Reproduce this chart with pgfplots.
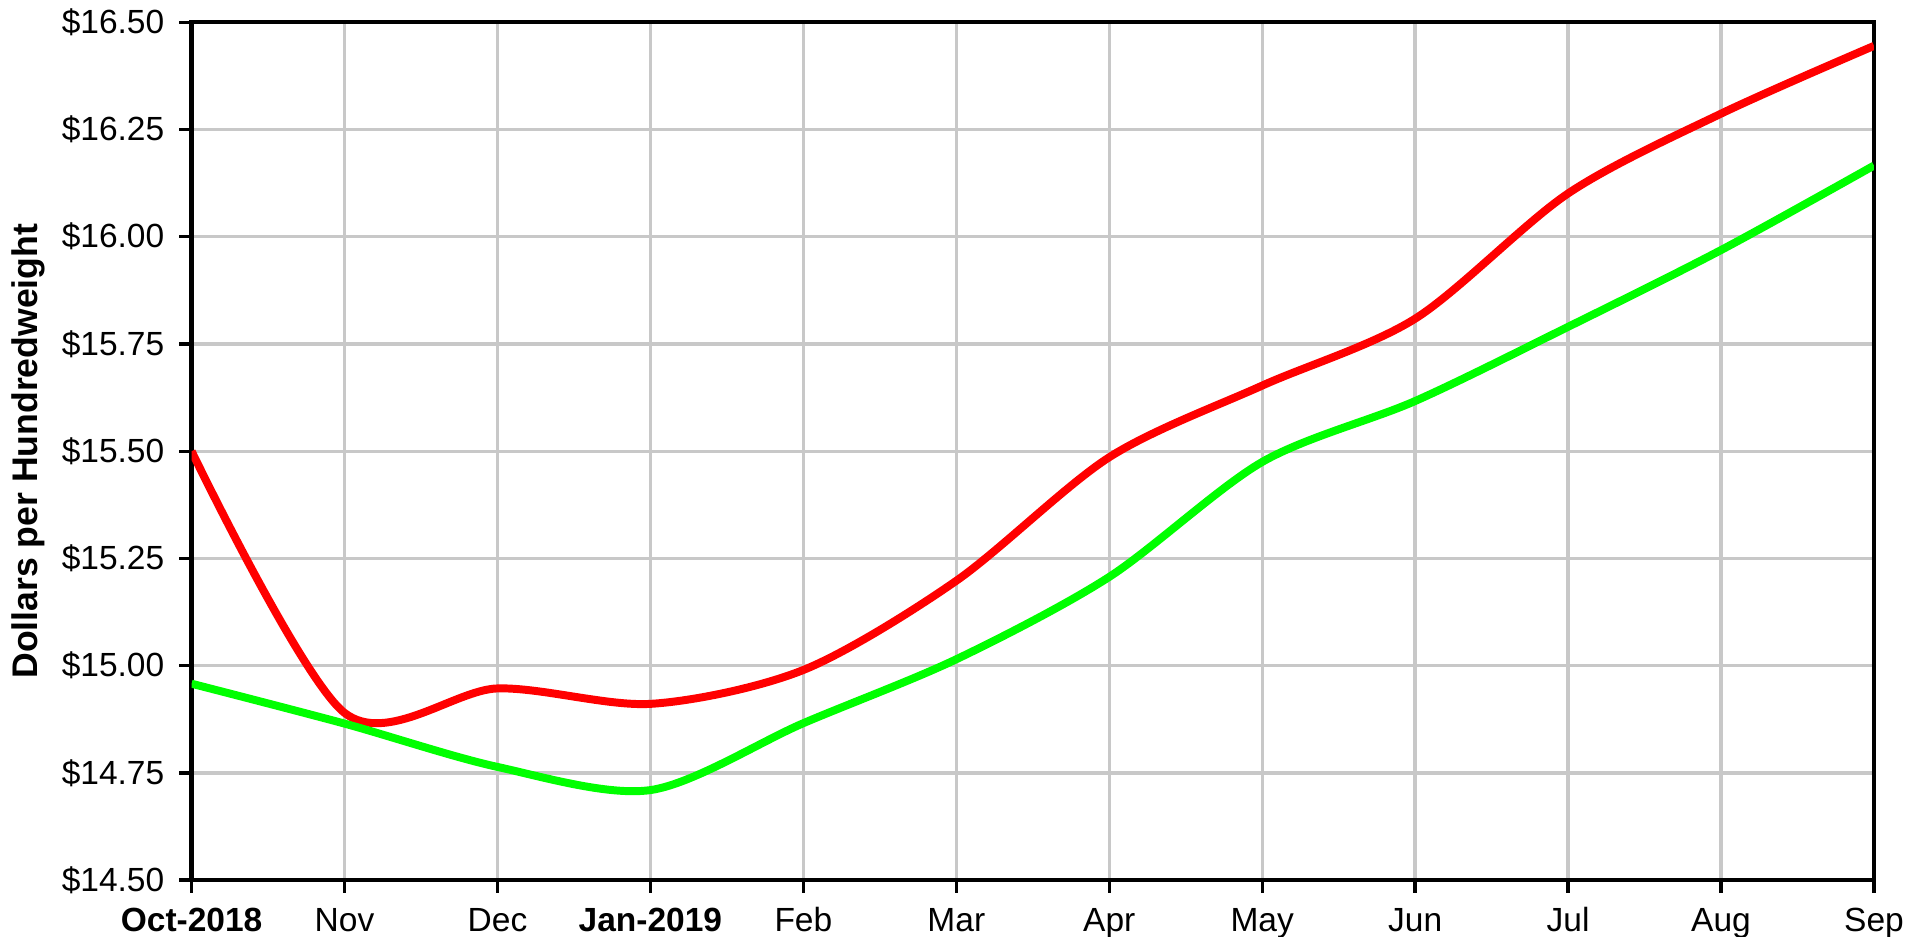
\documentclass[border=0pt]{standalone}
\usepackage{fontspec}
\setmainfont{Liberation Sans}
\usepackage{pgfplots}
\pgfplotsset{compat=1.18}
\definecolor{gridgray}{HTML}{C8C8C8}
\definecolor{cmered}{HTML}{FF0000}
\definecolor{cmegreen}{HTML}{00FF00}

\begin{document}
\begin{tikzpicture}
\useasboundingbox (-1.608cm,-0.47cm) rectangle (14.397cm,7.387cm);
\begin{axis}[
  at={(0,0)}, anchor=south west,
  scale only axis, width=14.12cm, height=7.20cm,
  xmin=0, xmax=11, ymin=14.5, ymax=16.5,
  xtick={0,1,2,3,4,5,6,7,8,9,10,11},
  xticklabels={\textbf{Oct-2018},Nov,Dec,\textbf{Jan-2019},Feb,Mar,Apr,May,Jun,Jul,Aug,Sep},
  ytick={14.5,14.75,15,15.25,15.5,15.75,16,16.25,16.5},
  yticklabels={\$14.50,\$14.75,\$15.00,\$15.25,\$15.50,\$15.75,\$16.00,\$16.25,\$16.50},
  xtick pos=bottom, ytick pos=left,
  grid=major, grid style={gridgray, line width=0.8pt},
  tick align=outside, major tick length=3pt,
  tick style={black, line width=0.8pt},
  axis line style={line width=1pt},
  ticklabel style={font=\fontsize{8}{9.6}\selectfont},
  xticklabel style={text height=5.8pt, text depth=1.7pt},
  ylabel={Dollars per Hundredweight},
  ylabel style={font=\bfseries\fontsize{8.5}{10}\selectfont,
    at={(axis description cs:-0.0972,0.5)}, anchor=center},
]
% red series
\addplot[cmered, line width=1.9pt, smooth, tension=0.5] coordinates {
  (0,15.500) (1,14.890) (2,14.947) (3,14.911) (4,14.990) (5,15.198)
  (6,15.486) (7,15.653) (8,15.809) (9,16.101) (10,16.287) (11,16.445)};
% green series
\addplot[cmegreen, line width=1.9pt, smooth, tension=0.5] coordinates {
  (0,14.958) (1,14.865) (2,14.764) (3,14.710) (4,14.866) (5,15.015)
  (6,15.207) (7,15.475) (8,15.617) (9,15.790) (10,15.969) (11,16.166)};
\end{axis}
\end{tikzpicture}
\end{document}
